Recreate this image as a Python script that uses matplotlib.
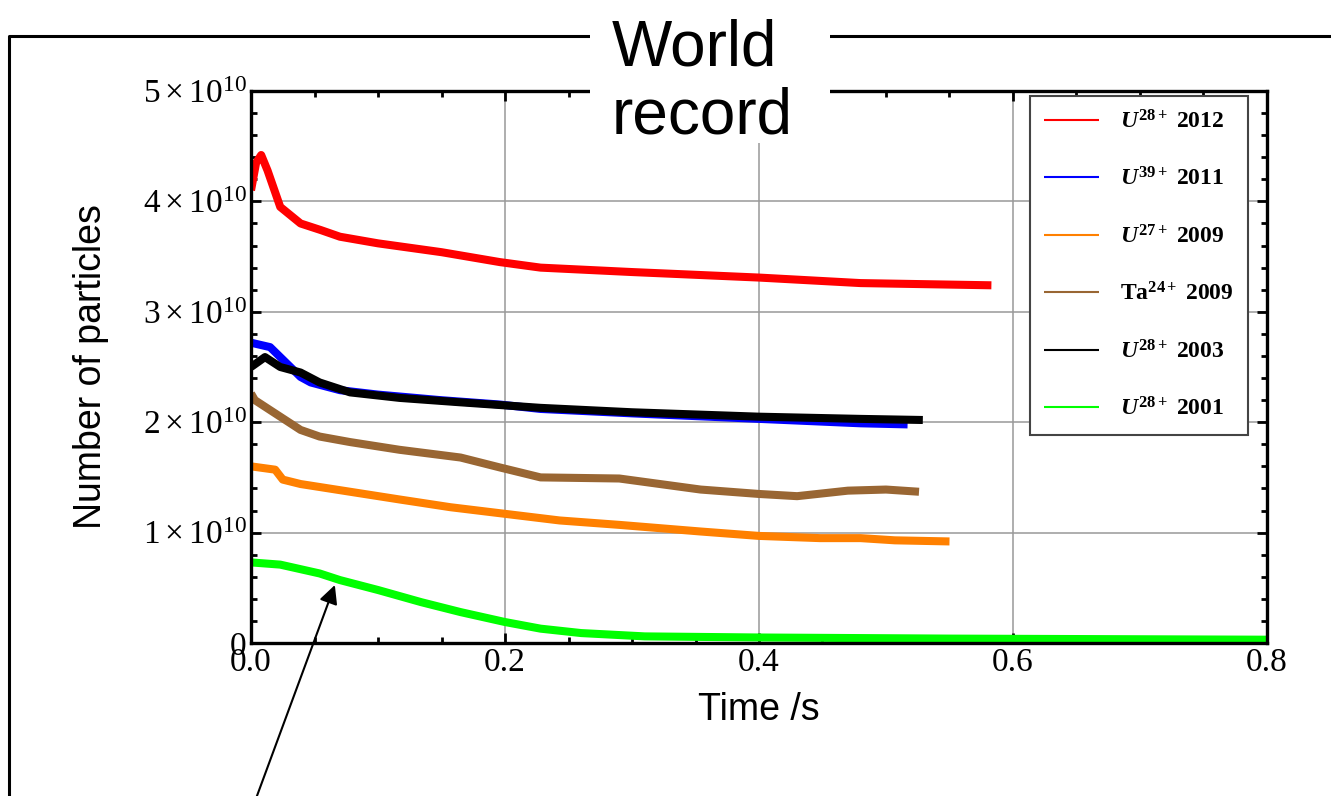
import matplotlib
matplotlib.use('Agg')
import matplotlib.pyplot as plt
from matplotlib.lines import Line2D
from matplotlib.patches import Rectangle
from matplotlib.ticker import MultipleLocator, FuncFormatter

plt.rcParams['mathtext.fontset'] = 'custom'
plt.rcParams['mathtext.rm'] = 'Liberation Serif'
plt.rcParams['mathtext.it'] = 'Liberation Serif:italic:bold'
plt.rcParams['mathtext.bf'] = 'Liberation Serif:bold'

# values, y in units of 1e10 particles
red_t = [0.0, 0.004, 0.008, 0.013, 0.023, 0.039, 0.055, 0.07, 0.10, 0.15, 0.196, 0.228, 0.30, 0.40, 0.48, 0.583]
red_n = [4.10, 4.35, 4.42, 4.28, 3.95, 3.80, 3.74, 3.68, 3.62, 3.54, 3.45, 3.40, 3.36, 3.31, 3.26, 3.24]

blue_t = [0.0, 0.015, 0.023, 0.039, 0.047, 0.07, 0.10, 0.149, 0.196, 0.228, 0.30, 0.40, 0.48, 0.517]
blue_n = [2.72, 2.68, 2.59, 2.41, 2.36, 2.29, 2.25, 2.20, 2.16, 2.12, 2.08, 2.03, 1.99, 1.98]

orange_t = [0.0, 0.019, 0.025, 0.039, 0.078, 0.117, 0.157, 0.20, 0.243, 0.29, 0.354, 0.40, 0.448, 0.48, 0.507, 0.55]
orange_n = [1.60, 1.57, 1.48, 1.44, 1.37, 1.30, 1.23, 1.17, 1.11, 1.07, 1.01, 0.97, 0.95, 0.95, 0.93, 0.92]

brown_t = [0.0, 0.003, 0.023, 0.039, 0.054, 0.078, 0.117, 0.165, 0.196, 0.228, 0.29, 0.354, 0.40, 0.43, 0.47, 0.50, 0.526]
brown_n = [2.26, 2.20, 2.05, 1.93, 1.87, 1.82, 1.75, 1.68, 1.59, 1.50, 1.49, 1.39, 1.35, 1.33, 1.38, 1.39, 1.37]

black_t = [0.0, 0.011, 0.023, 0.039, 0.054, 0.078, 0.117, 0.165, 0.228, 0.30, 0.40, 0.48, 0.529]
black_n = [2.50, 2.59, 2.50, 2.45, 2.36, 2.27, 2.22, 2.18, 2.13, 2.09, 2.05, 2.03, 2.02]

green_t = [0.0, 0.023, 0.054, 0.07, 0.10, 0.134, 0.165, 0.20, 0.228, 0.26, 0.31, 0.40, 0.55, 0.80]
green_n = [0.73, 0.71, 0.63, 0.57, 0.48, 0.37, 0.28, 0.19, 0.13, 0.09, 0.06, 0.05, 0.04, 0.03]

series = [
    (red_t, red_n, '#ff0000', r'$\mathit{U}^{\mathbf{28+}}$ 2012'),
    (blue_t, blue_n, '#0000ff', r'$\mathit{U}^{\mathbf{39+}}$ 2011'),
    (orange_t, orange_n, '#ff8000', r'$\mathit{U}^{\mathbf{27+}}$ 2009'),
    (brown_t, brown_n, '#996633', r'Ta$^{\mathbf{24+}}$ 2009'),
    (black_t, black_n, '#000000', r'$\mathit{U}^{\mathbf{28+}}$ 2003'),
    (green_t, green_n, '#00ff00', r'$\mathit{U}^{\mathbf{28+}}$ 2001'),
]

fig = plt.figure(figsize=(13.31, 7.96), dpi=100)
ax = fig.add_axes([0.1886, 0.1922, 0.7633, 0.6935])

for t, n, c, lab in series:
    ax.plot(t, [v * 1e10 for v in n], color=c, lw=5.8, label=lab, solid_capstyle='butt')

ax.set_xlim(0, 0.8)
ax.set_ylim(0, 5e10)
ax.xaxis.set_major_locator(MultipleLocator(0.2))
ax.xaxis.set_minor_locator(MultipleLocator(0.05))
ax.yaxis.set_major_locator(MultipleLocator(1e10))
ax.yaxis.set_minor_locator(MultipleLocator(0.2e10))
ax.xaxis.set_major_formatter(FuncFormatter(lambda v, p: '%.1f' % v))
ax.yaxis.set_major_formatter(FuncFormatter(
    lambda v, p: '0' if abs(v) < 1 else r'$%d\times10^{10}$' % round(v / 1e10)))
ax.grid(True, which='major', color='#999999', lw=1.1)
ax.tick_params(which='both', direction='in', top=True, right=True, width=2, color='black')
ax.tick_params(which='major', length=7, labelsize=24, pad=3)
ax.tick_params(which='minor', length=4)
for lab in ax.get_xticklabels() + ax.get_yticklabels():
    lab.set_family('Liberation Serif')
for s in ax.spines.values():
    s.set_linewidth(2.4)

ax.set_xlabel('Time /s', fontsize=27, family='Liberation Sans')
ax.set_ylabel('Number of particles', fontsize=27, family='Liberation Sans')
ax.xaxis.set_label_coords(0.5, -0.088)
ax.yaxis.set_label_coords(-0.140, 0.5)

leg = ax.legend(loc='upper left', bbox_to_anchor=(0.767, 0.991), borderaxespad=0,
                prop={'family': 'Liberation Serif', 'weight': 'bold', 'size': 17},
                fancybox=False, edgecolor='#444444', framealpha=1,
                labelspacing=1.45, handlelength=2.3, handletextpad=0.9, borderpad=0.6)
leg.get_frame().set_linewidth(1.5)
for l in leg.get_lines():
    l.set_linewidth(1.5)

# arrow pointing at the 2001 curve
ax.annotate('', xy=(0.066, 0.525e10), xycoords='data',
            xytext=(254 / 1331, -0.01), textcoords='figure fraction',
            arrowprops=dict(arrowstyle='-|>', color='black', lw=1.5, mutation_scale=28,
                            shrinkA=0, shrinkB=0),
            annotation_clip=False)

# slide frame and title
fig.add_artist(Line2D([0.0068, 0.0068, 1.0], [0.0, 0.9548, 0.9548], color='black', lw=2.2))
fig.add_artist(Rectangle((590 / 1331, 0.82), 240 / 1331, 0.18, facecolor='white',
                         edgecolor='none', zorder=5))
fig.text(612 / 1331, 1 - 133 / 796, 'World\nrecord', fontsize=46, family='Liberation Sans',
         ha='left', va='baseline', linespacing=1.15, zorder=6)

fig.savefig('out.png', dpi=100)
